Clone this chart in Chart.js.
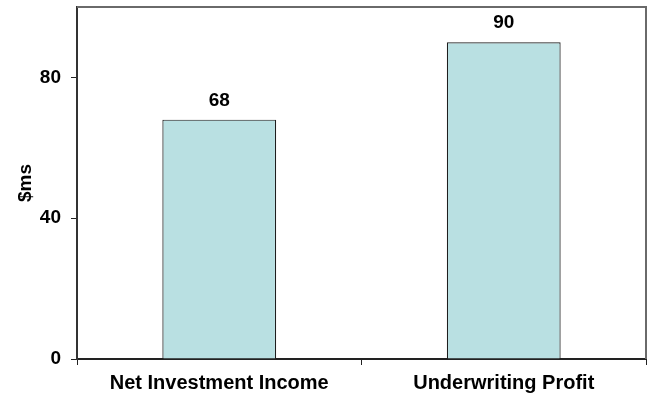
<!DOCTYPE html>
<html>
<head>
<meta charset="utf-8">
<script src="https://cdn.jsdelivr.net/npm/chart.js@4/dist/chart.umd.min.js"></script>
<style>
  html, body { margin: 0; padding: 0; background: #ffffff; }
  #wrap { width: 648px; height: 404px; }
</style>
</head>
<body>
<div id="wrap"><canvas id="c" width="648" height="404"></canvas></div>
<script>
// Income sources, in $ms
const categories = ['Net Investment Income', 'Underwriting Profit'];
const values = [68, 90];
const yTicks = [0, 40, 80];

const FONT = "'Liberation Sans', Arial, Helvetica, sans-serif";

// Value labels above each bar
const barLabels = {
  id: 'barLabels',
  afterDatasetsDraw(chart) {
    const ctx = chart.ctx;
    const meta = chart.getDatasetMeta(0);
    ctx.save();
    ctx.font = `bold 19px ${FONT}`;
    ctx.fillStyle = '#000';
    ctx.textAlign = 'center';
    ctx.textBaseline = 'middle';
    meta.data.forEach((bar, i) => {
      ctx.fillText(String(values[i]), bar.x, bar.y - 19);
    });
    ctx.restore();
  }
};

// Top and right edges of the plot frame
const frame = {
  id: 'frame',
  afterDraw(chart) {
    const { ctx, chartArea: a } = chart;
    ctx.save();
    ctx.strokeStyle = '#6a6a6a';
    ctx.lineWidth = 2;
    ctx.beginPath();
    ctx.moveTo(a.left, a.top);
    ctx.lineTo(a.right, a.top);
    ctx.lineTo(a.right, a.bottom);
    ctx.stroke();
    ctx.restore();
  }
};

new Chart(document.getElementById('c'), {
  type: 'bar',
  data: {
    labels: categories,
    datasets: [{
      data: values,
      backgroundColor: '#b9e0e2',
      borderColor: '#1e1e1e',
      borderWidth: 1.2,
      barPercentage: 0.4,
      categoryPercentage: 1.0
    }]
  },
  options: {
    responsive: false,
    devicePixelRatio: 1,
    animation: false,
    layout: { padding: { top: 7, right: 2, left: 0, bottom: 0 } },
    plugins: {
      legend: { display: false },
      tooltip: { enabled: false }
    },
    scales: {
      x: {
        type: 'category',
        offset: true,
        grid: {
          display: true,
          offset: true,
          drawOnChartArea: false,
          drawTicks: true,
          tickLength: 6,
          color: '#222',
          lineWidth: 1
        },
        border: { display: true, color: '#222', width: 2 },
        ticks: {
          color: '#000',
          font: { family: FONT, size: 20, weight: 'bold' },
          padding: 6,
          maxRotation: 0
        },
        afterFit(scale) {
          scale.height = 45;
          scale.paddingLeft = 0;
          scale.paddingRight = 0;
        }
      },
      y: {
        min: 0,
        max: 100,
        afterBuildTicks(scale) {
          scale.ticks = yTicks.map(v => ({ value: v }));
        },
        grid: {
          display: true,
          drawOnChartArea: false,
          drawTicks: true,
          tickLength: 6,
          color: '#222',
          lineWidth: 1
        },
        border: { display: true, color: '#333', width: 2 },
        ticks: {
          color: '#000',
          font: { family: FONT, size: 19, weight: 'bold' },
          padding: 10
        },
        title: {
          display: true,
          text: '$ms',
          color: '#000',
          font: { family: FONT, size: 19, weight: 'bold' },
          padding: { top: 14, bottom: 0 }
        },
        afterFit(scale) {
          scale.width = 77;
          scale.paddingTop = 0;
          scale.paddingBottom = 0;
        }
      }
    }
  },
  plugins: [barLabels, frame]
});
</script>
</body>
</html>
